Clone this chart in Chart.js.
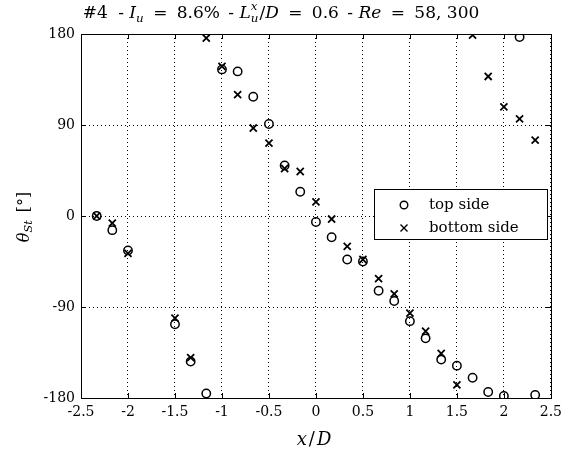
<!DOCTYPE html>
<html>
<head>
<meta charset="utf-8">
<script src="https://cdn.jsdelivr.net/npm/chart.js@4/dist/chart.umd.min.js"></script>
<style>
  html, body { margin: 0; padding: 0; background: #fff; }
</style>
</head>
<body>
<canvas id="fase" width="568" height="453"></canvas>
<script>
// posiciones x/D
const posX = [-2.333, -2.167, -2, -1.833, -1.667, -1.5, -1.333, -1.167, -1, -0.833, -0.667, -0.5, -0.333, -0.167, 0,
              0.167, 0.333, 0.5, 0.667, 0.833, 1, 1.167, 1.333, 1.5, 1.667, 1.833, 2, 2.167, 2.333]
// fase lado superior (grados)
const faseTop = [0, -14, -34, null, null, -107, -144, -175.5, 145, 143, 118, 91, 50, 24, -6,
                 -21, -43, -45, -74, -84, -104, -121, -142, -148, -160, -174, -178, 177, -177]
// fase lado inferior (grados)
const faseBottom = [0, -7, -37, null, null, -101, -140, 176, 148, 120, 87, 72, 47, 44, 14,
                    -3, -30, -43, -62, -77, -96, -114, -136, -167, 179, 138, 108, 96, 75]
const ticksX = [-2.5, -2, -1.5, -1, -0.5, 0, 0.5, 1, 1.5, 2, 2.5]
const ticksY = [-180, -90, 0, 90, 180]
const leyenda = ['top side', 'bottom side']

const serif = '"DejaVu Serif", "Liberation Serif", serif'

const toPoints = (vals) => posX.map((x, i) => ({ x: x, y: vals[i] })).filter(p => p.y !== null)

// dibuja texto con partes (sub / super indices, huecos)
function drawRich(ctx, parts, x, y, size, draw) {
    let cx = x
    parts.forEach(p => {
        if (p.gap) { cx += p.gap; return }
        const s = p.sub || p.sup ? size * 0.7 : size
        ctx.font = (p.it ? 'italic ' : '') + s + 'px ' + serif
        let dy = 0
        if (p.sub) dy = size * 0.28
        if (p.sup) dy = -size * 0.4
        if (draw) ctx.fillText(p.t, cx, y + dy)
        if (!p.stack) cx += ctx.measureText(p.t).width
    })
    return cx - x
}

const extras = {
    id: 'extras',
    afterDraw(chart) {
        const ctx = chart.ctx
        const a = chart.chartArea
        const sx = chart.scales.x, sy = chart.scales.y
        ctx.save()
        ctx.strokeStyle = '#000'
        ctx.lineWidth = 1
        // ticks hacia adentro
        ctx.beginPath()
        ticksX.forEach(t => {
            const px = Math.round(sx.getPixelForValue(t)) + 0.5
            ctx.moveTo(px, a.bottom); ctx.lineTo(px, a.bottom - 5)
            ctx.moveTo(px, a.top); ctx.lineTo(px, a.top + 5)
        })
        ticksY.forEach(t => {
            const py = Math.round(sy.getPixelForValue(t)) + 0.5
            ctx.moveTo(a.left, py); ctx.lineTo(a.left + 5, py)
            ctx.moveTo(a.right, py); ctx.lineTo(a.right - 5, py)
        })
        ctx.stroke()
        ctx.strokeRect(Math.round(a.left) + 0.5, Math.round(a.top) + 0.5, Math.round(a.right - a.left), Math.round(a.bottom - a.top))

        ctx.fillStyle = '#000'
        ctx.textBaseline = 'middle'
        ctx.textAlign = 'left'
        // titulo
        const title = [
            { t: '#4' }, { gap: 5 }, { t: ' - ' }, { t: 'I', it: true }, { t: 'u', it: true, sub: true },
            { gap: 4 }, { t: ' = ' }, { gap: 4 }, { t: '8.6%' }, { gap: 3 }, { t: ' - ' }, { t: 'L', it: true },
            { t: 'x', it: true, sup: true, stack: true }, { t: 'u', it: true, sub: true }, { gap: 1 }, { t: '/' },
            { t: 'D', it: true }, { gap: 4 }, { t: ' = ' }, { gap: 4 }, { t: '0.6' }, { gap: 3 }, { t: ' - ' },
            { t: 'Re', it: true }, { gap: 4 }, { t: ' = ' }, { gap: 4 }, { t: '58, 300' }
        ]
        const tw = drawRich(ctx, title, 0, 0, 17, false)
        drawRich(ctx, title, 281 - tw / 2, 14, 17, true)

        // eje x
        const xl = [{ t: 'x', it: true }, { gap: 2 }, { t: '/' }, { gap: 2 }, { t: 'D', it: true }]
        const xw = drawRich(ctx, xl, 0, 0, 18, false)
        drawRich(ctx, xl, 314 - xw / 2, 440, 18, true)

        // eje y
        const yl = [{ t: 'θ', it: true }, { t: 'St', it: true, sub: true }, { gap: 8 }, { t: '[°]' }]
        const yw = drawRich(ctx, yl, 0, 0, 16, false)
        ctx.save()
        ctx.translate(25, 217)
        ctx.rotate(-Math.PI / 2)
        drawRich(ctx, yl, -yw / 2, 0, 16, true)
        ctx.restore()

        // leyenda
        const lx = 374, ly = 189, lw = 173, lh = 50
        ctx.fillStyle = '#fff'
        ctx.fillRect(lx, ly, lw, lh)
        ctx.strokeRect(lx + 0.5, ly + 0.5, lw, lh)
        ctx.fillStyle = '#000'
        ctx.font = '15px ' + serif
        ctx.fillText(leyenda[0], 429, 205)
        ctx.fillText(leyenda[1], 429, 228)
        ctx.lineWidth = 1.4
        ctx.beginPath(); ctx.arc(404, 205, 3.8, 0, Math.PI * 2); ctx.stroke()
        ctx.beginPath()
        ctx.moveTo(400.5, 224.5); ctx.lineTo(407.5, 231.5)
        ctx.moveTo(407.5, 224.5); ctx.lineTo(400.5, 231.5)
        ctx.stroke()
        ctx.restore()
    }
}

new Chart(document.getElementById('fase'), {
    type: 'scatter',
    data: {
        datasets: [{
            label: leyenda[0],
            data: toPoints(faseTop),
            pointStyle: 'circle',
            pointRadius: 4.2,
            borderColor: '#000',
            backgroundColor: 'rgba(0,0,0,0)',
            borderWidth: 1.5
        }, {
            label: leyenda[1],
            data: toPoints(faseBottom),
            pointStyle: 'crossRot',
            pointRadius: 5,
            borderColor: '#000',
            borderWidth: 1.8
        }]
    },
    options: {
        responsive: false,
        animation: false,
        devicePixelRatio: 1,
        layout: { padding: { top: 34, right: 16, left: 0, bottom: 0 } },
        scales: {
            x: {
                type: 'linear',
                min: -2.5, max: 2.5,
                afterBuildTicks: (s) => { s.ticks = ticksX.map(v => ({ value: v })) },
                afterFit: (s) => { s.height = 55 },
                ticks: {
                    color: '#000', padding: 6, autoSkip: false, maxRotation: 0,
                    font: { family: serif, size: 14 },
                    callback: (v) => String(v)
                },
                grid: { color: '#000', lineWidth: 1, drawTicks: false },
                border: { display: false, dash: [1, 3] }
            },
            y: {
                min: -180, max: 180,
                afterBuildTicks: (s) => { s.ticks = ticksY.map(v => ({ value: v })) },
                afterFit: (s) => { s.width = 81 },
                ticks: {
                    color: '#000', padding: 6, autoSkip: false,
                    font: { family: serif, size: 14 }
                },
                grid: { color: '#000', lineWidth: 1, drawTicks: false },
                border: { display: false, dash: [1, 3] }
            }
        },
        plugins: {
            legend: { display: false },
            title: { display: false },
            tooltip: { enabled: false }
        }
    },
    plugins: [extras]
});
</script>
</body>
</html>
